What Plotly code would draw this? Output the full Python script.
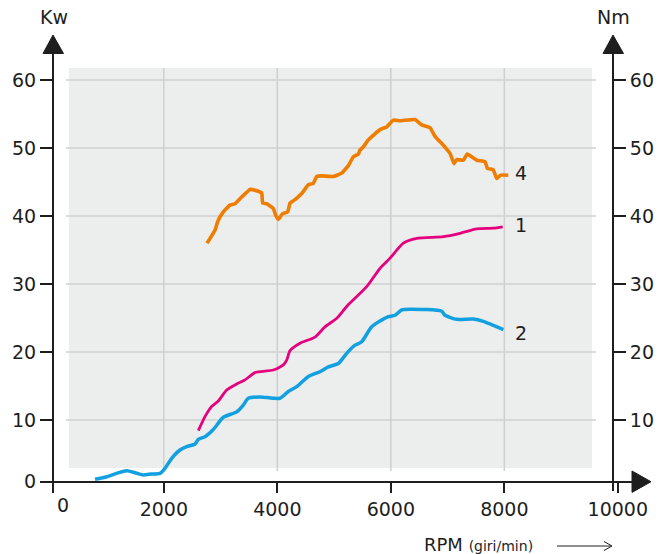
import plotly.graph_objects as go

# ---------------- data ----------------
rpm_4 = [2761, 2902, 2950, 3049, 3167, 3255, 3373, 3519, 3607, 3725, 3742, 3813, 3930, 3972,
         4018, 4088, 4183, 4224, 4312, 4430, 4547, 4635, 4694, 4782, 4987, 5135, 5252, 5340,
         5428, 5457, 5520, 5605, 5810, 5928, 6044, 6162, 6427, 6544, 6691, 6779, 6926, 7043,
         7114, 7161, 7278, 7348, 7514, 7660, 7701, 7806, 7866, 7936, 8070]
val_4 = [35.98, 37.9, 39.2, 40.6, 41.6, 41.8, 42.8, 43.9, 43.8, 43.4, 41.9, 41.8, 41.1, 40.1,
         39.5, 40.3, 40.6, 41.9, 42.4, 43.3, 44.6, 44.8, 45.8, 45.9, 45.8, 46.3, 47.4, 48.7,
         49.1, 49.7, 50.2, 51.2, 52.7, 53.1, 54.1, 54.0, 54.2, 53.4, 53.0, 51.7, 50.4, 49.2,
         47.7, 48.3, 48.2, 49.1, 48.2, 48.0, 47.0, 46.8, 45.5, 46.0, 46.0]

rpm_1 = [2608, 2726, 2844, 2960, 3108, 3285, 3431, 3607, 3930, 4106, 4165, 4224, 4400, 4664,
         4840, 5047, 5223, 5575, 5810, 5986, 6221, 6456, 6926, 7219, 7513, 7806, 7972]
val_1 = [8.43, 10.5, 12.0, 12.8, 14.4, 15.3, 15.9, 16.96, 17.35, 18.1, 18.8, 20.2, 21.3, 22.2,
         23.7, 24.95, 26.7, 29.6, 32.3, 33.8, 36.0, 36.7, 36.96, 37.45, 38.1, 38.2, 38.4]

rpm_2 = [788, 994, 1170, 1346, 1493, 1639, 1786, 1933, 2021, 2139, 2285, 2403, 2550, 2608,
         2726, 2872, 3049, 3285, 3401, 3489, 3695, 4048, 4194, 4342, 4547, 4752, 4899, 5075,
         5223, 5369, 5487, 5663, 5928, 6074, 6192, 6338, 6897, 6955, 7161, 7454, 7630, 7982]
val_2 = [1.28, 1.66, 2.16, 2.55, 2.25, 1.91, 2.06, 2.16, 2.9, 4.37, 5.59, 6.07, 6.47, 7.16,
         7.54, 8.6, 10.4, 11.2, 12.2, 13.2, 13.4, 13.2, 14.2, 14.9, 16.4, 17.1, 17.8, 18.3,
         19.8, 21.0, 21.5, 23.7, 25.1, 25.4, 26.2, 26.3, 26.0, 25.4, 24.8, 24.85, 24.5, 23.3]

x_ticks = [2000, 4000, 6000, 8000, 10000]
x_grid = [2000, 4000, 6000, 8000]
y_ticks = [10, 20, 30, 40, 50, 60]
y_zero = 0.926          # where the (broken) x axis crosses, labelled "0"
curve_labels = ["4", "1", "2"]
label_pos = [(8294, 46.3), (8294, 38.7), (8294, 22.8)]

# ---------------- layout geometry ----------------
W, H = 662, 554
L, R, T, B = 43, 22, 40, 63
PW, PH = W - L - R, H - T - B
XR = [-128.6, 10391]
YR = [-0.441, 65.88]

def px(xpix):   # pixel -> paper x
    return (xpix - L) / PW

def py(ypix):   # pixel -> paper y
    return (H - B - ypix) / PH

ORANGE = "#EF7D00"
MAGENTA = "#E5007D"
BLUE = "#12A0E0"
INK = "#1e1e1e"
FONT = "DejaVu Sans"

fig = go.Figure()
fig.add_trace(go.Scatter(x=rpm_2, y=val_2, mode="lines",
                         line=dict(color=BLUE, width=3.5, shape="spline", smoothing=0.6)))
fig.add_trace(go.Scatter(x=rpm_1, y=val_1, mode="lines",
                         line=dict(color=MAGENTA, width=2.8, shape="spline", smoothing=0.6)))
fig.add_trace(go.Scatter(x=rpm_4, y=val_4, mode="lines", yaxis="y2",
                         line=dict(color=ORANGE, width=3.6, shape="spline", smoothing=0.3)))

shapes = []
# gray panel
shapes.append(dict(type="rect", xref="x", yref="y", x0=330, x1=9545, y0=2.94, y1=61.76,
                   fillcolor="#ECEDED", line=dict(width=0), layer="below"))
for v in y_ticks:
    shapes.append(dict(type="line", xref="x", yref="y", x0=277, x1=9616, y0=v, y1=v,
                       line=dict(color="#CFCFCF", width=1.5), layer="below"))
for g in x_grid:
    shapes.append(dict(type="line", xref="x", yref="y", x0=g, x1=g, y0=2.5, y1=61.76,
                       line=dict(color="#CFCFCF", width=1.5), layer="below"))
# arrowheads of the axes
def tri(pts):
    s = "M " + " L ".join(f"{px(a)},{py(b)}" for a, b in pts) + " Z"
    return dict(type="path", xref="paper", yref="paper", path=s,
                fillcolor=INK, line=dict(color=INK, width=1))
shapes.append(tri([(53, 35), (43, 53.5), (63.5, 53.5)]))
shapes.append(tri([(613, 35), (603, 53.5), (623.5, 53.5)]))
shapes.append(tri([(651, 481.7), (632, 471), (632, 492.4)]))
# small arrow after the RPM title
for (a, b, c, d) in [(557, 546, 611, 546), (604, 541.5, 612, 546), (604, 550.5, 612, 546)]:
    shapes.append(dict(type="line", xref="paper", yref="paper",
                       x0=px(a), y0=py(b), x1=px(c), y1=py(d),
                       line=dict(color=INK, width=1)))

def note(text, xpix, ypix, size=19, xanchor="center"):
    return dict(text=text, x=px(xpix), y=py(ypix), xref="paper", yref="paper",
                showarrow=False, xanchor=xanchor, yanchor="middle",
                font=dict(family=FONT, size=size, color=INK))

annotations = [
    note("Kw", 54, 17),
    note("Nm", 613, 17),
    note("0", 63, 505),
    note('RPM <span style="font-size:14px">(giri/min)</span>', 422, 544, size=18,
         xanchor="left"),
]
for t, (xx, yy) in zip(curve_labels, label_pos):
    annotations.append(dict(text=t, x=xx, y=yy, xref="x", yref="y", showarrow=False,
                            xanchor="center", yanchor="middle",
                            font=dict(family=FONT, size=19, color=INK)))

axis_common = dict(showgrid=False, zeroline=False, showline=True, linecolor=INK, linewidth=2,
                   ticks="outside", tickcolor=INK, tickwidth=1.6, automargin=False,
                   tickfont=dict(family=FONT, size=19, color=INK))

fig.update_layout(
    width=W, height=H,
    margin=dict(l=L, r=R, t=T, b=B, pad=0, autoexpand=False),
    paper_bgcolor="white", plot_bgcolor="white",
    showlegend=False,
    xaxis=dict(range=XR, domain=[0, 1], anchor="free", position=py(481.7),
               tickvals=[48] + x_ticks, ticktext=[""] + [str(v) for v in x_ticks],
               ticklen=10, **axis_common),
    yaxis=dict(range=YR, domain=[0, 1], anchor="free", position=px(53), side="left",
               tickvals=[y_zero] + y_ticks, ticktext=["0"] + [str(v) for v in y_ticks],
               ticklen=12, **axis_common),
    yaxis2=dict(range=YR, domain=[0, 1], anchor="free", position=px(613), side="right",
                overlaying="y", tickvals=y_ticks, ticktext=[str(v) for v in y_ticks],
                ticklen=12, **axis_common),
    shapes=shapes,
    annotations=annotations,
)

fig.write_html("out.html", config={"displayModeBar": False},
               post_script="document.body.style.margin='0px';")
